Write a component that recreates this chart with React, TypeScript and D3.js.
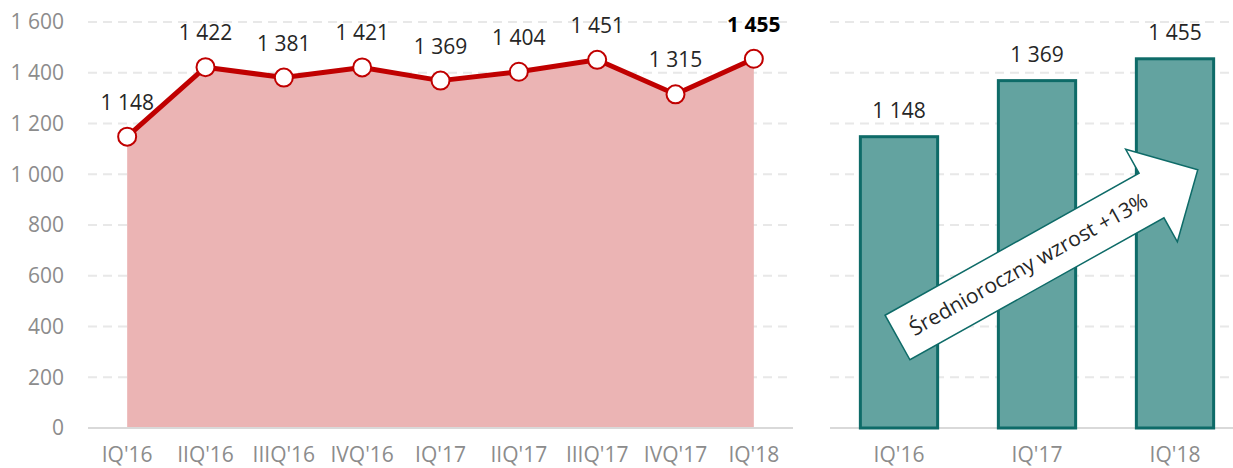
import React from 'react';
import * as d3 from 'd3';

// quarterly values (left chart)
const quarters = ["IQ'16", "IIQ'16", "IIIQ'16", "IVQ'16", "IQ'17", "IIQ'17", "IIIQ'17", "IVQ'17", "IQ'18"];
const quarterValues = [1148, 1422, 1381, 1421, 1369, 1404, 1451, 1315, 1455];

// year-on-year comparison (right chart)
const yearLabels = ["IQ'16", "IQ'17", "IQ'18"];
const yearValues = [1148, 1369, 1455];

const yTicks = [0, 200, 400, 600, 800, 1000, 1200, 1400, 1600];
const growthLabel = 'Średnioroczny wzrost +13%';

const W = 1233;
const H = 468;
const FONT = '"Open Sans", sans-serif';
const FS = 21;

const fmt = (v: number) => {
  const s = String(v);
  return s.length > 3 ? s.slice(0, s.length - 3) + ' ' + s.slice(-3) : s;
};

export default function App() {
  const y = d3.scaleLinear().domain([0, 1600]).range([428, 22]);

  const xLeft = d3.scaleBand().domain(quarters).range([88, 793]).padding(0);
  const cx = (q: string) => (xLeft(q) || 0) + xLeft.bandwidth() / 2;

  const xRight = d3.scaleBand().domain(yearLabels).range([830, 1244]).paddingInner(0.44).paddingOuter(0.22);

  const pts = quarters.map((q, i) => ({ q, v: quarterValues[i] }));
  const line = d3.line<any>().x(d => cx(d.q)).y(d => y(d.v));
  const area = d3.area<any>().x(d => cx(d.q)).y0(y(0)).y1(d => y(d.v));

  // arrow drawn in its own rotated frame
  const arrow = d3.line()([[0, -25.5], [291, -25.5], [291, -53], [344, 0], [291, 53], [291, 25.5], [0, 25.5]]) + 'Z';

  return (
    <svg width={W} height={H} style={{ position: 'absolute', left: 0, top: 0, background: '#fff' }} fontFamily={FONT}>
      {/* gridlines */}
      {yTicks.filter(t => t > 0).map(t => (
        <g key={t}>
          <line x1={88} x2={793} y1={y(t)} y2={y(t)} stroke="#e8e8e8" strokeWidth={2} strokeDasharray="9 6" />
          <line x1={830} x2={W} y1={y(t)} y2={y(t)} stroke="#e8e8e8" strokeWidth={2} strokeDasharray="9 6" />
        </g>
      ))}

      {/* y axis labels */}
      {yTicks.map(t => (
        <text key={t} x={64} y={y(t)} dy="0.35em" textAnchor="end" fontSize={FS} fill="#8c8c8c">{fmt(t)}</text>
      ))}

      {/* left chart */}
      <path d={area(pts) || ''} fill="#ebb4b4" />
      <line x1={88} x2={793} y1={y(0)} y2={y(0)} stroke="#d9d9d9" strokeWidth={2} />
      <path d={line(pts) || ''} fill="none" stroke="#c00000" strokeWidth={5} strokeLinejoin="round" />
      {pts.map((d, i) => (
        <g key={d.q}>
          <circle cx={cx(d.q)} cy={y(d.v)} r={9} fill="#fff" stroke="#c00000" strokeWidth={2} />
          <text x={cx(d.q)} y={y(d.v) - 27} textAnchor="middle" fontSize={FS}
            fill={i === pts.length - 1 ? '#000' : '#262626'} fontWeight={i === pts.length - 1 ? 700 : 400}>
            {fmt(d.v)}
          </text>
        </g>
      ))}
      {quarters.map(q => (
        <text key={q} x={cx(q)} y={462} textAnchor="middle" fontSize={FS} fill="#8c8c8c">{q}</text>
      ))}

      {/* right chart */}
      <line x1={830} x2={W} y1={y(0)} y2={y(0)} stroke="#d9d9d9" strokeWidth={2} />
      {yearLabels.map((c, i) => {
        const x0 = xRight(c) || 0;
        const bw = xRight.bandwidth();
        return (
          <g key={c}>
            <rect x={x0} y={y(yearValues[i])} width={bw} height={y(0) - y(yearValues[i])}
              fill="#63a3a0" stroke="#0e6b68" strokeWidth={3} />
            <text x={x0 + bw / 2} y={y(yearValues[i]) - 19} textAnchor="middle" fontSize={FS} fill="#262626">{fmt(yearValues[i])}</text>
            <text x={x0 + bw / 2} y={462} textAnchor="middle" fontSize={FS} fill="#8c8c8c">{c}</text>
          </g>
        );
      })}

      {/* growth arrow */}
      <g transform="translate(897.5,337.5) rotate(-29.2)">
        <path d={arrow} fill="#fff" stroke="#0e6b68" strokeWidth={1.5} strokeLinejoin="miter" />
        <text x={150} y={0} dy="0.35em" textAnchor="middle" fontSize={FS} fill="#262626">{growthLabel}</text>
      </g>
    </svg>
  );
}
